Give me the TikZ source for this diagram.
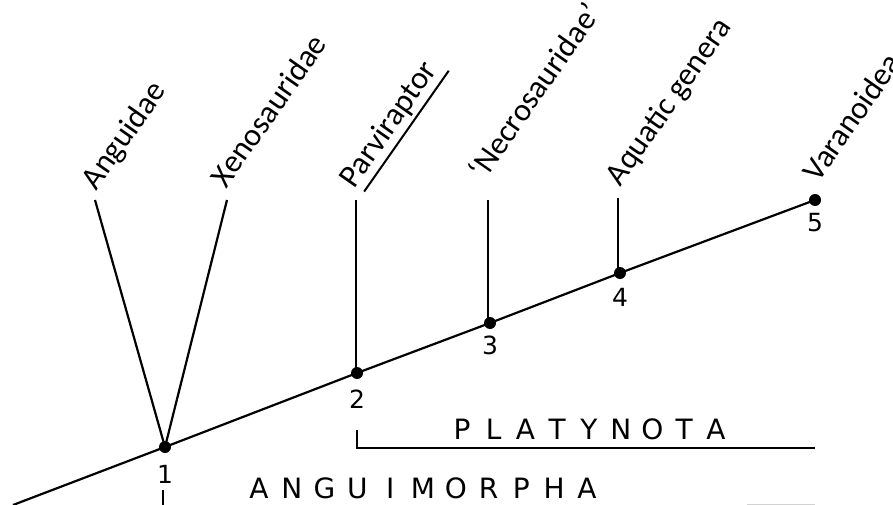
\documentclass[tikz,border=0pt]{standalone}
\usepackage{fontspec}
\setmainfont{Carlito}
\newfontfamily\isofont{DejaVu Sans}
\makeatletter
\newcommand\pitchedtext[2]{\@tfor\pitch@char:=#2\do{\makebox[#1]{\pitch@char}}}
\makeatother
\begin{document}
\begin{tikzpicture}[x=1pt,y=-1pt,line width=2.2pt,
  taxon/.style={font=\fontsize{32}{32}\selectfont, rotate=55, anchor=base west, inner sep=0pt},
  num/.style={font=\isofont\fontsize{25}{25}\selectfont, inner sep=0pt},
  clade/.style={font=\isofont\fontsize{28}{28}\selectfont, inner sep=0pt},
  dot/.style={circle, fill, inner sep=0pt, minimum size=12pt}]
\useasboundingbox (0,0) rectangle (893,505);
% main stem
\coordinate (root) at (13,505);
\node[dot] (d1) at (165,447) {};
\node[dot] (d2) at (357,373) {};
\node[dot] (d3) at (490,323) {};
\node[dot] (d4) at (620,273) {};
\node[dot] (d5) at (815,200) {};
\draw (root) -- (d1.center) -- (d2.center) -- (d3.center) -- (d4.center) -- (d5.center);
% branch tips
\coordinate (tA) at (95,200);
\coordinate (tX) at (227,200);
\coordinate (tP) at (356,200);
\coordinate (tN) at (488,200);
\coordinate (tQ) at (618,198);
\draw (tA) -- (d1.center) -- (tX);
\draw (tP) -- (356,373);
\draw (tN) -- (488,323);
\draw (tQ) -- (618,273);
% taxon labels
\node[taxon] (lA) at (96,192) {Anguidae};
\node[taxon] (lX) at (226,190) {Xenosauridae};
\node[taxon] (lP) at (354,190) {Parviraptor};
\draw[line width=2pt] ([shift={(5pt,2pt)}]lP.south west) -- ([shift={(5pt,2pt)}]lP.south east);
\node[taxon] (lN) at (484,182) {`Necrosauridae'};
\node[taxon] (lQ) at (620,188) {Aquatic genera};
\node[taxon] (lV) at (818,184) {Varanoidea};
% node numbers
\node[num] (n1) at ([yshift=-27pt]d1.center) {1};
\node[num] (n2) at ([yshift=-26pt]d2.center) {2};
\node[num] (n3) at ([yshift=-22pt]d3.center) {3};
\node[num] (n4) at ([yshift=-24pt]d4.center) {4};
\node[num] (n5) at ([yshift=-23pt]d5.center) {5};
% Platynota bracket
\coordinate (pb1) at (357,430);
\coordinate (pb2) at (357,448);
\coordinate (pb3) at (815,448);
\draw (pb1) -- (pb2) -- (pb3);
\node[clade] (plat) at (589,429) {\pitchedtext{31.75pt}{PLATYNOTA}};
% Anguimorpha
\coordinate (ab1) at (163,490);
\coordinate (ab2) at (163,505);
\draw (ab1) -- (ab2);
\node[clade] (angu) at (423,488) {\pitchedtext{32.8pt}{ANGUIMORPHA}};
\coordinate (g1) at (747,504);
\coordinate (g2) at (815,504);
\draw[gray!35, line width=1pt] (g1) -- (g2);
\end{tikzpicture}
\end{document}
